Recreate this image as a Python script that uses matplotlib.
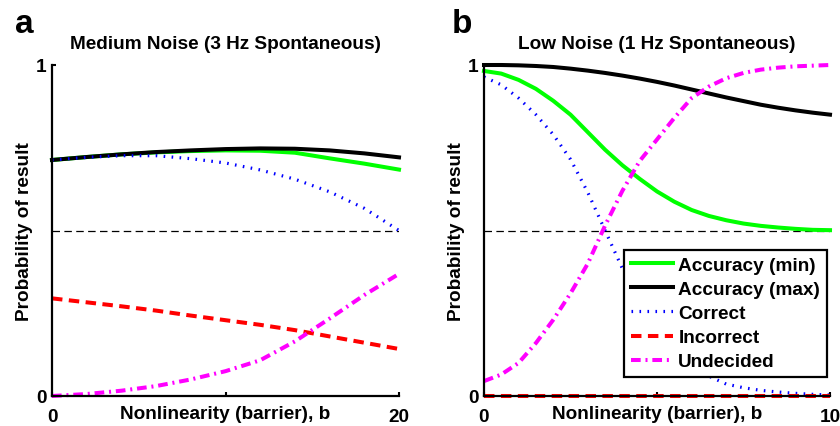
import numpy as np
import matplotlib
matplotlib.use('Agg')
from matplotlib import pyplot as plt

plt.rcParams['font.family'] = ['Liberation Sans', 'DejaVu Sans']
plt.rcParams['font.weight'] = 'bold'

# panel a: medium noise, barrier 0..20
b_med = [0, 2, 4, 6, 8, 10, 12, 14, 16, 18, 20]
acc_min_med = [0.713, 0.722, 0.730, 0.736, 0.740, 0.742, 0.741, 0.735, 0.718, 0.702, 0.684]
acc_max_med = [0.713, 0.722, 0.730, 0.737, 0.742, 0.746, 0.748, 0.747, 0.742, 0.733, 0.721]
correct_med = [0.713, 0.721, 0.726, 0.726, 0.717, 0.704, 0.683, 0.655, 0.617, 0.567, 0.500]
incorrect_med = [0.295, 0.283, 0.271, 0.258, 0.243, 0.229, 0.215, 0.199, 0.180, 0.161, 0.142]
undecided_med = [0.0, 0.006, 0.016, 0.030, 0.050, 0.075, 0.108, 0.165, 0.234, 0.305, 0.369]

# panel b: low noise, barrier 0..10
b_low = [0, 0.5, 1, 1.5, 2, 2.5, 3, 3.5, 4, 4.5, 5, 5.5, 6, 6.5, 7, 7.5, 8, 8.5, 9, 9.5, 10]
acc_min_low = [0.982, 0.974, 0.955, 0.928, 0.892, 0.850, 0.797, 0.744, 0.697, 0.656, 0.618,
               0.587, 0.562, 0.544, 0.531, 0.521, 0.514, 0.509, 0.505, 0.502, 0.501]
acc_max_low = [1.0, 1.0, 0.999, 0.997, 0.994, 0.989, 0.983, 0.976, 0.968, 0.959, 0.949,
               0.938, 0.926, 0.914, 0.902, 0.891, 0.880, 0.871, 0.863, 0.856, 0.850]
correct_low = [0.964, 0.940, 0.900, 0.850, 0.790, 0.715, 0.615, 0.500, 0.385, 0.285, 0.210,
               0.150, 0.100, 0.060, 0.036, 0.025, 0.017, 0.012, 0.008, 0.005, 0.003]
incorrect_low = [0.0] * 21
undecided_low = [0.045, 0.065, 0.100, 0.160, 0.230, 0.310, 0.400, 0.515, 0.620, 0.710, 0.775,
                 0.840, 0.900, 0.935, 0.960, 0.976, 0.986, 0.992, 0.996, 0.998, 1.0]

labels = ['Accuracy (min)', 'Accuracy (max)', 'Correct', 'Incorrect', 'Undecided']
styles = [
    dict(color='#00ff00', lw=2.9, ls='-'),
    dict(color='black', lw=2.9, ls='-'),
    dict(color='blue', lw=2.3, ls=(0, (0.5, 2.0))),
    dict(color='red', lw=2.9, ls=(0, (2.6, 1.6))),
    dict(color='magenta', lw=2.9, ls=(0, (2.4, 1.2, 0.5, 1.2))),
]

fs = 13.7

fig = plt.figure(figsize=(8.4, 4.27), dpi=100)
ax1 = fig.add_axes([52 / 840, 30 / 427, 347 / 840, 331 / 427])
ax2 = fig.add_axes([484 / 840, 30 / 427, 346 / 840, 331 / 427])


def draw_panel(ax, x, series, xmax, title):
    ax.axhline(0.5, color='black', lw=0.9, ls=(0, (6, 3.5)))
    for y, st, lab in zip(series, styles, labels):
        ax.plot(x, y, label=lab, clip_on=False, **st)
    ax.set_xlim(0, xmax)
    ax.set_ylim(0, 1)
    ax.set_xticks([0, xmax / 2, xmax])
    ax.set_xticklabels(['0', '', str(xmax)])
    ax.set_yticks([0, 1])
    ax.set_yticklabels(['0', '1'])
    ax.tick_params(direction='in', length=3, width=1.5, labelsize=fs)
    ax.tick_params(axis='x', pad=9)
    ax.tick_params(axis='y', pad=4)
    for s in ['top', 'right']:
        ax.spines[s].set_visible(False)
    for s in ['left', 'bottom']:
        ax.spines[s].set_linewidth(1.6)
    ax.set_title(title, fontsize=fs, fontweight='bold', pad=12)
    ax.set_xlabel('Nonlinearity (barrier), b', fontsize=fs, fontweight='bold', labelpad=-14.5)
    ax.set_ylabel('Probability of result', fontsize=fs, fontweight='bold', labelpad=2)


draw_panel(ax1, b_med, [acc_min_med, acc_max_med, correct_med, incorrect_med, undecided_med],
           20, 'Medium Noise (3 Hz Spontaneous)')
draw_panel(ax2, b_low, [acc_min_low, acc_max_low, correct_low, incorrect_low, undecided_low],
           10, 'Low Noise (1 Hz Spontaneous)')

leg = ax2.legend(loc='lower right', bbox_to_anchor=(0.991, 0.057), fontsize=fs,
                 frameon=True, fancybox=False, edgecolor='black', framealpha=1,
                 handlelength=2.2, handletextpad=0.3, labelspacing=0.36,
                 borderpad=0.35, borderaxespad=0)
leg.get_frame().set_linewidth(1.6)

fig.text(15 / 840, 1 - 33 / 427, 'a', fontsize=24, fontweight='bold', va='baseline')
fig.text(452 / 840, 1 - 33 / 427, 'b', fontsize=24, fontweight='bold', va='baseline')

fig.savefig('out.png', dpi=100)
